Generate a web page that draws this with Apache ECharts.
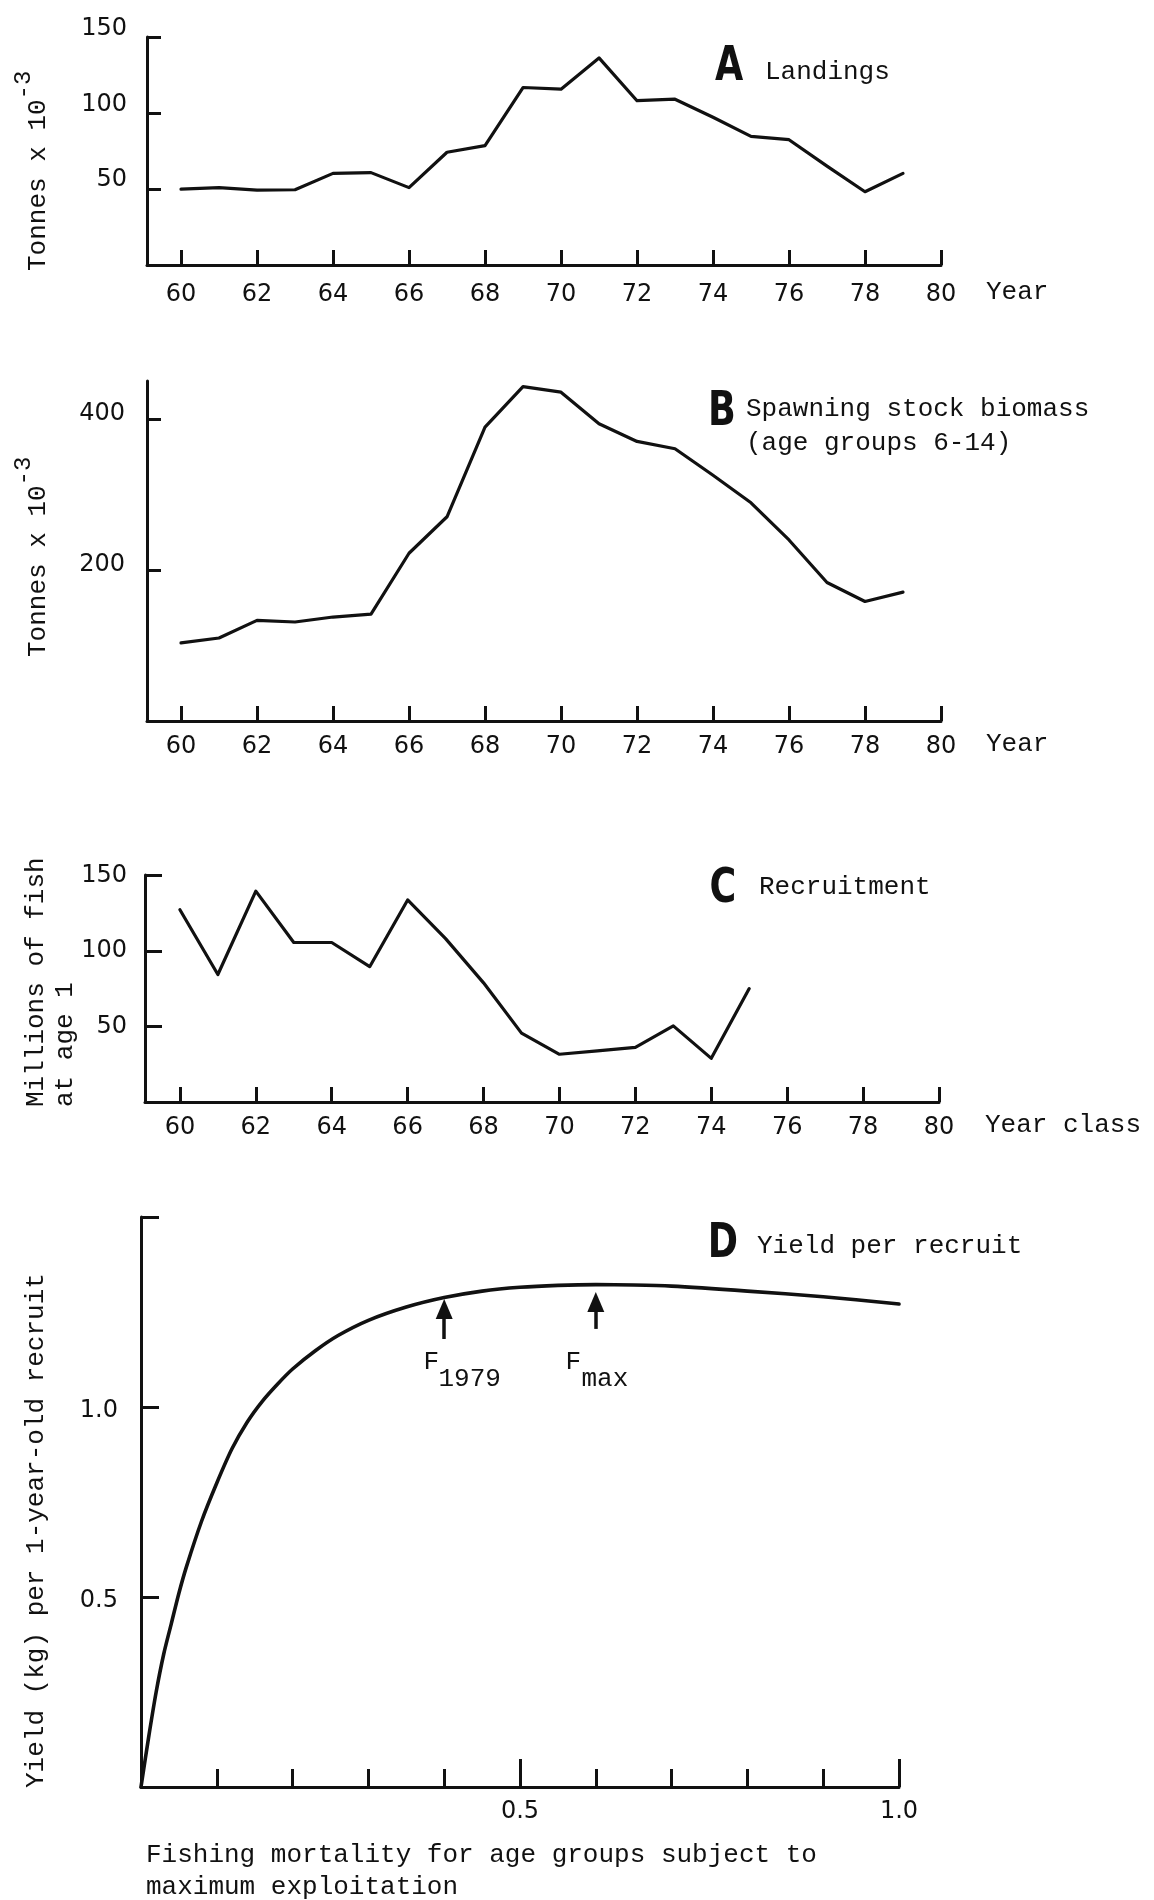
<!DOCTYPE html>
<html><head><meta charset="utf-8">
<script src="https://cdn.jsdelivr.net/npm/echarts@6/dist/echarts.min.js"></script>
<style>html,body{margin:0;padding:0;background:#fff}#c{width:1154px;height:1900px}</style>
</head><body><div id="c"></div>
<script>
// ---- data ----
const years = [60,61,62,63,64,65,66,67,68,69,70,71,72,73,74,75,76,77,78,79];
const landings = [50,51,49.3,49.6,60.4,60.9,51,74.3,78.7,117,115.9,136.5,108.3,109.3,97.4,84.8,82.6,65.2,48.3,60.4];
const spawningBiomass = [103.3,109.9,133.2,131,137.6,141.5,222,270.3,389,442.6,435.2,393.4,370,360.4,325.3,288.8,239.6,183.3,158.2,170.5];
const recruitYears = [60,61,62,63,64,65,66,67,68,69,70,71,72,73,74,75];
const recruitment = [127.3,84.4,139.6,105.6,105.6,89.6,133.8,108.2,78.9,45.6,31.6,33.8,36.2,50.4,28.9,75.1];
const fishingMortality = [0,0.01,0.02,0.03,0.04,0.05,0.06,0.08,0.10,0.12,0.14,0.16,0.18,0.20,0.23,0.26,0.30,0.35,0.40,0.45,0.50,0.55,0.60,0.65,0.70,0.80,0.90,1.00];
const yieldPerRecruit = [0,0.13,0.25,0.35,0.43,0.51,0.58,0.70,0.80,0.89,0.96,1.015,1.06,1.10,1.148,1.188,1.228,1.263,1.288,1.305,1.315,1.32,1.322,1.321,1.318,1.305,1.29,1.271];
const yearTicks = [60,62,64,66,68,70,72,74,76,78,80];
const landingsTicks = [50,100,150];
const biomassTicks = [200,400];
const recruitTicks = [50,100,150];
const yprTicks = [0.5,1.0,1.5];
const yprLabels = [0.5,1.0];
const fMajorTicks = [0.5,1.0];
const fMinorTicks = [0.1,0.2,0.3,0.4,0.6,0.7,0.8,0.9];
const fMarks = [{name:'1979', F:0.4, from:1.179, to:1.258},{name:'max', F:0.6, from:1.2055, to:1.276}];

// ---- style ----
const INK = '#111';
const MONO = '"Liberation Mono", "DejaVu Sans Mono", monospace';
const SANS = '"DejaVu Sans", sans-serif';

function yearAxis(gi, min, margin){
  return {gridIndex:gi, type:'value', min:min, max:80, position:'bottom',
    axisLine:{show:true, onZero:false, lineStyle:{color:INK, width:3}},
    axisTick:{show:true, inside:true, length:15, customValues:yearTicks, lineStyle:{color:INK, width:3}},
    axisLabel:{show:true, customValues:yearTicks, margin:margin, fontFamily:SANS, fontSize:24, color:INK},
    splitLine:{show:false}};
}
function valAxis(gi, max, ticks, labels, tickLen, margin, va, lh, fmt){
  return {gridIndex:gi, type:'value', min:0, max:max, position:'left',
    axisLine:{show:true, onZero:false, lineStyle:{color:INK, width:3}},
    axisTick:{show:true, inside:true, length:tickLen, customValues:ticks, lineStyle:{color:INK, width:3}},
    axisLabel:{show:true, customValues:labels, margin:margin, fontFamily:SANS, fontSize:24, color:INK,
      verticalAlign:va, lineHeight:lh, formatter: fmt || (v => String(v))},
    splitLine:{show:false}};
}
const lineStyle = {color:INK, width:3.2, join:'round', cap:'round'};

const chart = echarts.init(document.getElementById('c'), null, {renderer:'canvas'});
const option = {
  backgroundColor:'#fff',
  animation:false,
  grid:[
    {left:147, top:37, width:794, height:228, outerBoundsMode:'none'},
    {left:147, top:381, width:794, height:340, outerBoundsMode:'none'},
    {left:145, top:875, width:794, height:227, outerBoundsMode:'none'},
    {left:141, top:1217, width:758, height:570, outerBoundsMode:'none'}
  ],
  xAxis:[
    yearAxis(0, 59.105, 18),
    yearAxis(1, 59.105, 14),
    yearAxis(2, 59.08, 14),
    {gridIndex:3, type:'value', min:0, max:1, position:'bottom',
      axisLine:{show:true, onZero:false, lineStyle:{color:INK, width:3}},
      axisTick:{show:true, inside:true, length:28, customValues:fMajorTicks, lineStyle:{color:INK, width:3}},
      axisLabel:{show:true, customValues:fMajorTicks, margin:13, fontFamily:SANS, fontSize:24, color:INK,
        formatter: v => v.toFixed(1)},
      splitLine:{show:false}},
    {gridIndex:3, type:'value', min:0, max:1, position:'bottom',
      axisLine:{show:false},
      axisTick:{show:true, inside:true, length:18, customValues:fMinorTicks, lineStyle:{color:INK, width:3}},
      axisLabel:{show:false},
      splitLine:{show:false}}
  ],
  yAxis:[
    valAxis(0, 150.3, landingsTicks, landingsTicks, 14, 20, 'bottom', 18),
    valAxis(1, 450, biomassTicks, biomassTicks, 14, 22, 'bottom', 10),
    valAxis(2, 150.3, recruitTicks, recruitTicks, 17, 18, 'middle', 24),
    valAxis(3, 1.5, yprTicks, yprLabels, 18, 23, 'top', 8, v => v.toFixed(1))
  ],
  series:[
    {type:'line', xAxisIndex:0, yAxisIndex:0, data:years.map((y,i)=>[y, landings[i]]),
      showSymbol:false, lineStyle:lineStyle, silent:true},
    {type:'line', xAxisIndex:1, yAxisIndex:1, data:years.map((y,i)=>[y, spawningBiomass[i]]),
      showSymbol:false, lineStyle:lineStyle, silent:true},
    {type:'line', xAxisIndex:2, yAxisIndex:2, data:recruitYears.map((y,i)=>[y, recruitment[i]]),
      showSymbol:false, lineStyle:lineStyle, silent:true},
    {type:'line', xAxisIndex:3, yAxisIndex:3, data:fishingMortality.map((f,i)=>[f, yieldPerRecruit[i]]),
      showSymbol:false, smooth:0.3, lineStyle:{color:INK, width:3.6, join:'round', cap:'round'}, silent:true,
      markLine:{silent:true, animation:false, label:{show:false},
        lineStyle:{color:INK, width:3.5, type:'solid'},
        data: fMarks.map(m => [
          {coord:[m.F, m.from], symbol:'none'},
          {coord:[m.F, m.to], symbol:'triangle', symbolSize:[17,20]}
        ])}}
  ]
};
chart.setOption(option);

function txt(x, y, text, opts){
  opts = opts || {};
  return {type:'text', x:x, y:y, rotation:opts.rotation||0, scaleX:opts.scaleX||1, silent:true,
    style:{text:text, font:opts.font || ('26px ' + MONO), fill:INK,
      align:opts.align||'left', verticalAlign:opts.va||'middle',
      textAlign:opts.align||'left', textVerticalAlign:opts.va||'middle'}};
}
const BIG = 'bold 48px "DejaVu Sans", sans-serif';
const R = Math.PI/2;
const graphics = [
  // panel letters and titles
  txt(729, 68, 'A', {font:BIG, align:'center', scaleX:0.76}),
  txt(765, 72, 'Landings'),
  txt(722, 413, 'B', {font:BIG, align:'center', scaleX:0.76}),
  txt(746, 409, 'Spawning stock biomass'),
  txt(746, 443, '(age groups 6-14)'),
  txt(723, 890, 'C', {font:BIG, align:'center', scaleX:0.76}),
  txt(759, 887, 'Recruitment'),
  txt(723, 1245, 'D', {font:BIG, align:'center', scaleX:0.76}),
  txt(757, 1246, 'Yield per recruit'),
  // y-axis titles (rotated)
  txt(38, 271, 'Tonnes x 10', {rotation:R}),
  txt(24, 271 - 11*15.6, '-3', {rotation:R, font:'24px ' + MONO}),
  txt(38, 657, 'Tonnes x 10', {rotation:R}),
  txt(24, 657 - 11*15.6, '-3', {rotation:R, font:'24px ' + MONO}),
  txt(36, 1107, 'Millions of fish', {rotation:R}),
  txt(65, 1107, 'at age 1', {rotation:R}),
  txt(36, 1788, 'Yield (kg) per 1-year-old recruit', {rotation:R}),
  // x-axis title panel D
  txt(146, 1855, 'Fishing mortality for age groups subject to'),
  txt(146, 1887, 'maximum exploitation')
];
// x-axis names placed after the axis end, at tick-label level
[[0, 'Year', 45, 27], [1, 'Year', 45, 23], [2, 'Year class', 46, 23]].forEach(([gi, name, gap, dy]) => {
  const p = chart.convertToPixel({gridIndex:gi}, [80, 0]);
  graphics.push(txt(p[0] + gap, p[1] + dy, name));
});
// arrow labels anchored to data coordinates
const labelOffsets = {'1979':{fx:-20.7, sx:-5.7}, 'max':{fx:-30.3, sx:-14.3}};
fMarks.forEach(m => {
  const p = chart.convertToPixel({gridIndex:3}, [m.F, 0]);
  const o = labelOffsets[m.name];
  graphics.push(txt(p[0] + o.fx, 1362, 'F'));
  graphics.push(txt(p[0] + o.sx, 1379, m.name));
});
chart.setOption({graphic:{elements:graphics}});
</script>
</body></html>
